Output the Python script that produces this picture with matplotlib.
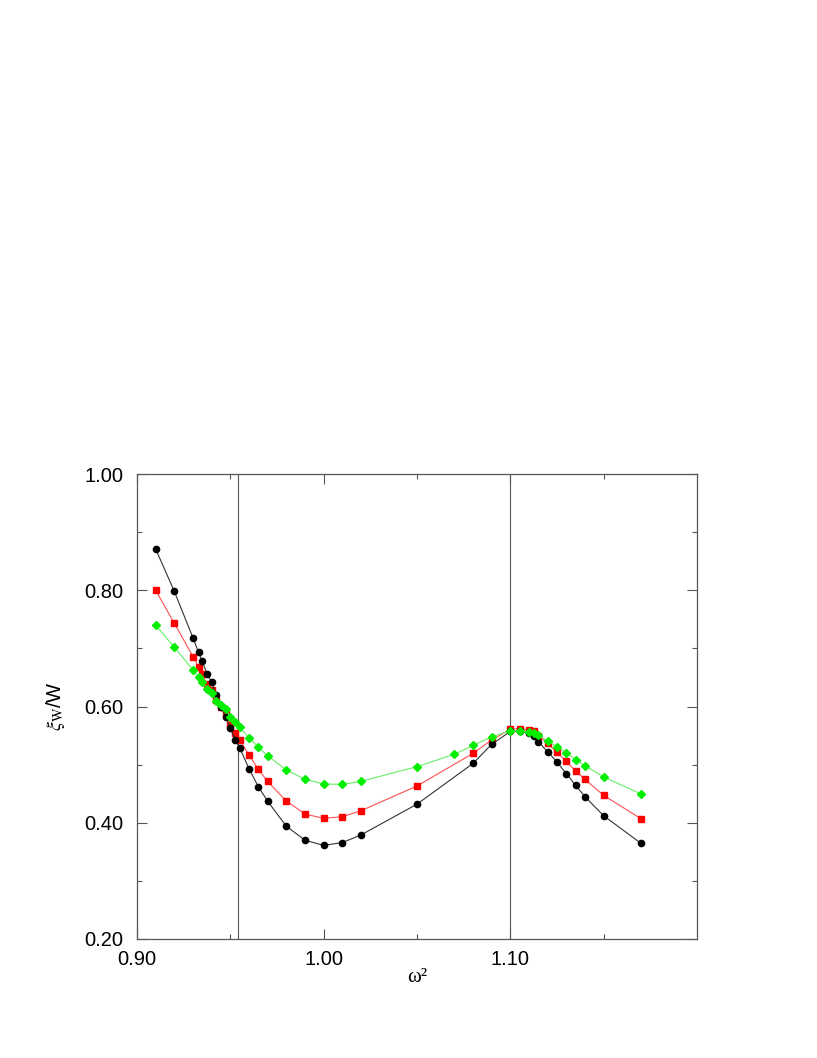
import matplotlib
matplotlib.use("Agg")
import matplotlib.pyplot as plt
from matplotlib.ticker import FixedLocator

# ---- data ----
x_black = [0.91, 0.92, 0.93, 0.933, 0.935, 0.9375, 0.94, 0.9425, 0.945, 0.9475,
           0.95, 0.9525, 0.955, 0.96, 0.965, 0.97, 0.98, 0.99, 1.00, 1.01, 1.02,
           1.05, 1.08, 1.09, 1.10, 1.105, 1.11, 1.1125, 1.115, 1.12, 1.125, 1.13,
           1.135, 1.14, 1.15, 1.17]
y_black = [0.871, 0.798, 0.718, 0.693, 0.678, 0.656, 0.642, 0.619, 0.600, 0.582,
           0.563, 0.543, 0.529, 0.493, 0.462, 0.437, 0.394, 0.370, 0.361, 0.366, 0.379,
           0.432, 0.502, 0.535, 0.557, 0.558, 0.554, 0.550, 0.5395, 0.522, 0.5045, 0.4844,
           0.4644, 0.4448, 0.412, 0.3646]

x_red = [0.91, 0.92, 0.93, 0.933, 0.935, 0.9375, 0.94, 0.9425, 0.945, 0.9475,
         0.95, 0.9525, 0.955, 0.96, 0.965, 0.97, 0.98, 0.99, 1.00, 1.01, 1.02,
         1.05, 1.08, 1.09, 1.10, 1.105, 1.11, 1.1125, 1.115, 1.12, 1.125, 1.13,
         1.135, 1.14, 1.15, 1.17]
y_red = [0.800, 0.743, 0.686, 0.668, 0.656, 0.638, 0.628, 0.611, 0.599, 0.587,
         0.568, 0.554, 0.543, 0.5166, 0.492, 0.471, 0.4374, 0.415, 0.4076, 0.4104, 0.4207,
         0.4632, 0.5194, 0.5424, 0.5607, 0.5618, 0.5596, 0.557, 0.549, 0.5367, 0.521, 0.5057,
         0.489, 0.4747, 0.447, 0.407]

x_green = [0.91, 0.92, 0.93, 0.933, 0.935, 0.9375, 0.94, 0.9425, 0.945, 0.9475,
           0.95, 0.9525, 0.955, 0.96, 0.965, 0.97, 0.98, 0.99, 1.00, 1.01, 1.02,
           1.05, 1.07, 1.08, 1.09, 1.10, 1.105, 1.11, 1.1125, 1.115, 1.12, 1.125, 1.13,
           1.135, 1.14, 1.15, 1.17]
y_green = [0.740, 0.702, 0.663, 0.650, 0.642, 0.630, 0.624, 0.610, 0.6026, 0.5957,
           0.5825, 0.573, 0.564, 0.5463, 0.5298, 0.515, 0.491, 0.4747, 0.4667, 0.466, 0.4713,
           0.4965, 0.5178, 0.533, 0.548, 0.558, 0.5584, 0.556, 0.555, 0.5505, 0.5406, 0.531, 0.5205,
           0.5085, 0.4982, 0.4787, 0.4495]

vlines_x = [0.954, 1.10]
x_ticks = [0.90, 1.00, 1.10]
x_ticklabels = ["0.90", "1.00", "1.10"]
x_minor = [0.95, 1.05, 1.15]
y_ticks = [0.20, 0.40, 0.60, 0.80, 1.00]
y_ticklabels = ["0.20", "0.40", "0.60", "0.80", "1.00"]
y_minor = [0.30, 0.50, 0.70, 0.90]

plt.rcParams['font.family'] = ['Liberation Sans', 'DejaVu Sans']
plt.rcParams['mathtext.fontset'] = 'stix'

fig = plt.figure(figsize=(8.17, 10.58), dpi=100)
ax = fig.add_axes([137/817, 1-939/1058, (697-137)/817, (939-474)/1058])

axcol = '#555555'
for xv in vlines_x:
    ax.axvline(xv, color=axcol, lw=0.8, zorder=1)

ax.plot(x_black, y_black, color='#333333', lw=0.8, marker='o', ms=4.5,
        mfc='black', mec='black', zorder=5)
ax.plot(x_red, y_red, color='#ff5050', lw=0.8, marker='s', ms=4.5,
        mfc='#ff0000', mec='#ff0000', zorder=4)
ax.plot(x_green, y_green, color='#66ee66', lw=0.8, marker='D', ms=4.5,
        mfc='#00ee00', mec='#00ee00', zorder=6)

ax.set_xlim(0.90, 1.20)
ax.set_ylim(0.20, 1.00)
ax.set_xticks(x_ticks)
ax.set_xticklabels(x_ticklabels)
ax.xaxis.set_minor_locator(FixedLocator(x_minor))
ax.set_yticks(y_ticks)
ax.set_yticklabels(y_ticklabels)
ax.yaxis.set_minor_locator(FixedLocator(y_minor))

ax.tick_params(which='both', direction='in', top=True, right=True, colors=axcol,
               labelcolor='black', labelsize=14.5, width=0.8)
ax.tick_params(which='major', length=7)
ax.tick_params(which='minor', length=3.5)
ax.tick_params(axis='y', which='major', pad=10)
ax.tick_params(axis='x', which='major', pad=8)
for s in ax.spines.values():
    s.set_color(axcol)
    s.set_linewidth(0.9)

ax.set_xlabel('ω²', fontsize=15, family=['Liberation Serif', 'DejaVu Serif'], labelpad=-1)
ax.set_ylabel(r'$\xi_{\mathrm{W}}$/W', fontsize=14.5, labelpad=12)

fig.savefig('out.png', dpi=100)
